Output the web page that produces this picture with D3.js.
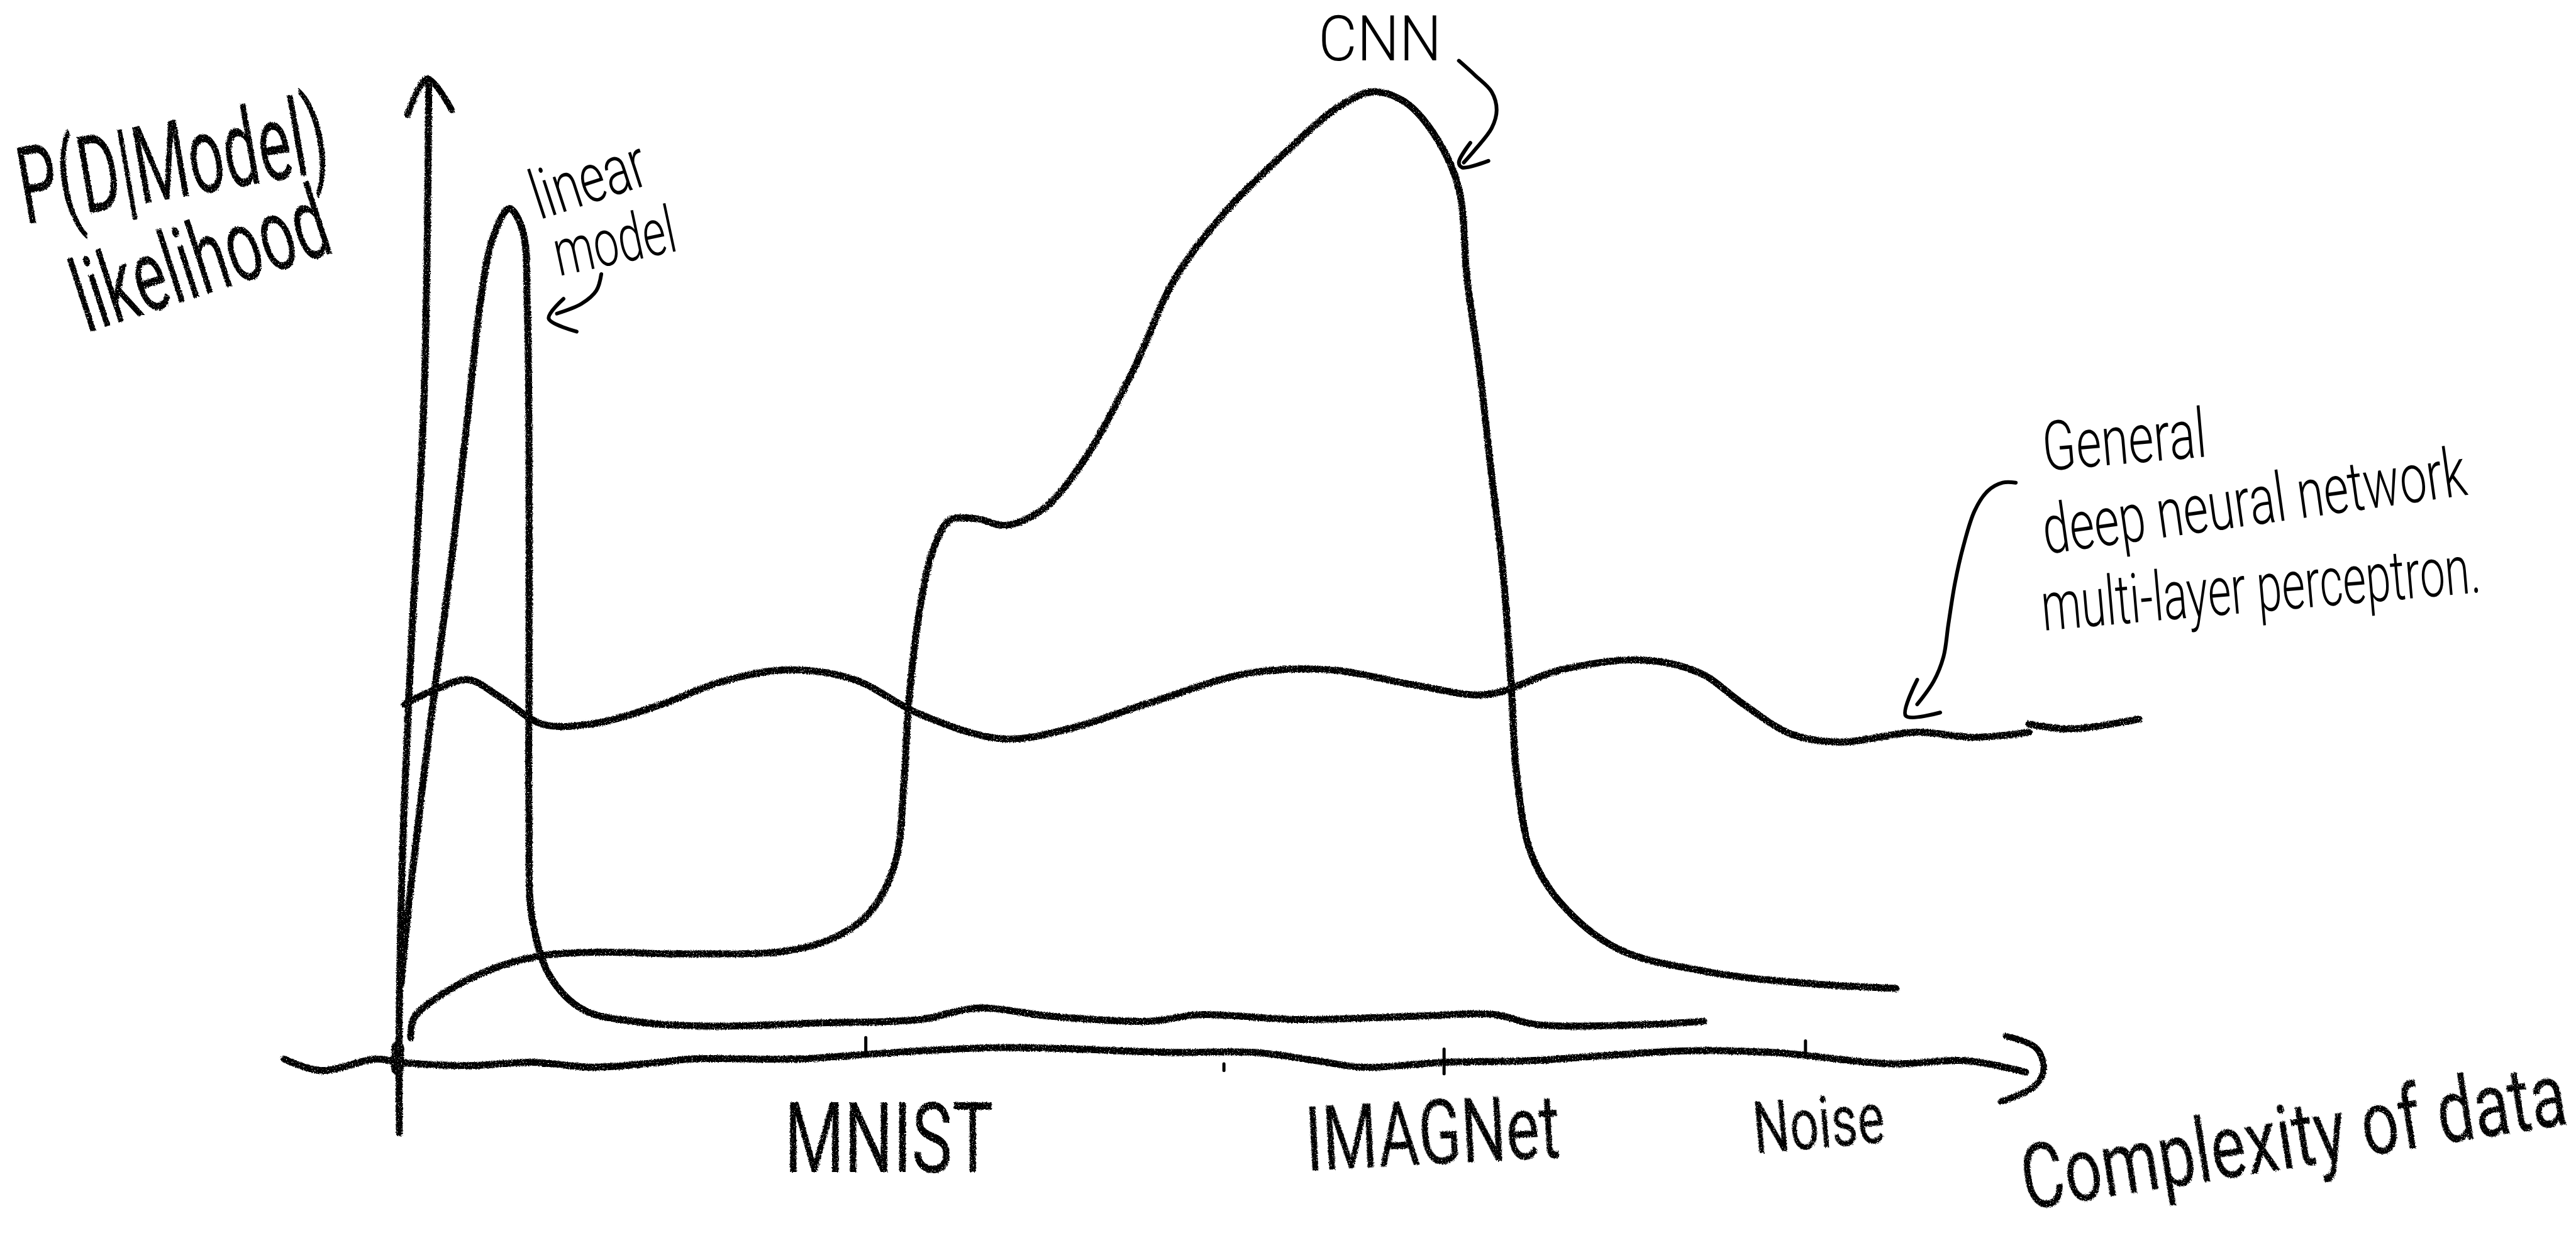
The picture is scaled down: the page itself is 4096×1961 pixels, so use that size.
<!DOCTYPE html>
<html>
<head>
<meta charset="utf-8">
<script src="https://cdn.jsdelivr.net/npm/d3@7"></script>
<style>
  html, body { margin: 0; padding: 0; background: #fff; overflow: hidden; }
  svg { display: block; }
  text { font-family: Roboto, "Open Sans", sans-serif; fill: #000; }
</style>
</head>
<body>
<script>
/* DATA. complexity = distance right of the y axis, likelihood = height above the x axis */
var linearX = [1, 7, 19, 32, 42, 50, 57, 67, 75, 78, 79, 79, 79, 81, 92, 112, 142, 187, 257, 317, 352, 397, 457, 487, 547, 617, 667, 692, 757, 794];
var linearY = [47, 107, 207, 307, 397, 467, 502, 520, 507, 457, 367, 247, 147, 87, 52, 32, 25, 22, 24, 26, 33, 28, 25, 29, 26, 28, 29, 23, 23, 25];

var cnnX = [7, 9, 27, 57, 87, 117, 177, 237, 267, 287, 302, 307, 310, 317, 325, 335, 352, 369, 392, 417, 447, 472, 502, 537, 572, 592, 612, 632, 645, 650, 657, 665, 672, 677, 680, 689, 707, 742, 797, 857, 911];
var cnnY = [15, 27, 42, 57, 65, 67, 66, 68, 77, 92, 122, 167, 217, 277, 312, 330, 331, 327, 337, 367, 422, 477, 517, 552, 582, 591, 585, 562, 532, 477, 427, 357, 297, 227, 177, 127, 97, 69, 55, 48, 45];

var generalX = [3, 22, 42, 62, 87, 117, 157, 197, 237, 277, 317, 367, 407, 457, 517, 567, 617, 662, 707, 757, 792, 817, 847, 877, 923, 959, 992];
var generalY = [218, 227, 233, 222, 206, 206, 217, 232, 239, 233, 212, 197, 203, 219, 237, 239, 230, 224, 239, 245, 237, 219, 200, 195, 201, 198, 201];
var generalTailX = [992, 1017, 1059];
var generalTailY = [206, 203, 209];

var xAxisX = [-70, -48, -14, 0, 43, 80, 118, 159, 177, 243, 287, 367, 470, 521, 558, 587, 636, 689, 733, 784, 836, 909, 953, 990];
var xAxisY = [2, -5, 2, 0, -2, 0, -3, 0, 2, 2, 5, 9, 6, 6, 1, -3, 0, 1, 4, 7, 6, -1, 1, -6];
var yAxisX = [0, 0, 2, 7, 15, 18];
var yAxisY = [-43, 27, 127, 247, 402, 599];

var tickValues = [284, 502, 636, 856];
var tickTop = [15, -1, 8, 13];
var tickBottom = [5, -5, -7, 4];

var xLabels = ["MNIST", "IMAGNet", "Noise"];
var xTitle = "Complexity of data";
var yTitle = ["P(D|Model)", "likelihood"];
var seriesNotes = ["linear", "model", "CNN", "General", "deep neural network", "multi-layer perceptron."];

// set the dimensions (the sketch is read in a 1568 wide copy)
var width = 4096,
    height = 1961,
    k = width / 1568;

var x = d3.scaleLinear().domain([-243, 1325]).range([0, width]);
var y = d3.scaleLinear().domain([647, -104]).range([0, height]);

var line = d3.line()
    .x(function(d) { return x(d[0]); })
    .y(function(d) { return y(d[1]); })
    .curve(d3.curveCatmullRom.alpha(0.5));

var svg = d3.select("body").append("svg")
    .attr("width", width)
    .attr("height", height);

svg.append("rect").attr("width", width).attr("height", height).attr("fill", "#fff");

// pencil grain for the heavy strokes
var filter = svg.append("defs").append("filter")
    .attr("id", "pencil")
    .attr("filterUnits", "userSpaceOnUse")
    .attr("x", 0).attr("y", 0).attr("width", width).attr("height", height);
filter.append("feTurbulence")
    .attr("type", "fractalNoise").attr("baseFrequency", 0.45).attr("numOctaves", 2).attr("seed", 4).attr("result", "noise");
filter.append("feDisplacementMap")
    .attr("in", "SourceGraphic").attr("in2", "noise").attr("scale", 5).attr("result", "rough");
filter.append("feColorMatrix")
    .attr("in", "noise").attr("type", "matrix")
    .attr("values", "0 0 0 0 0  0 0 0 0 0  0 0 0 0 0  0 0 0 -8 6.2").attr("result", "grain");
filter.append("feComposite")
    .attr("in", "rough").attr("in2", "grain").attr("operator", "in");

var heavy = svg.append("g").attr("filter", "url(#pencil)");
var thin = svg.append("g");

function zip(a, b) { return a.map(function(d, i) { return [d, b[i]]; }); }

function stroke(g, pts, w) {
  g.append("path")
    .attr("d", line(pts))
    .attr("fill", "none")
    .attr("stroke", "#000")
    .attr("stroke-width", w)
    .attr("stroke-linecap", "round")
    .attr("stroke-linejoin", "round");
}

// axes
stroke(heavy, zip(xAxisX, xAxisY), 11);
stroke(heavy, zip(yAxisX, yAxisY), 11);
stroke(heavy, [[-1, 9], [-1, -4]], 20);
// axis arrow heads, same pen
stroke(heavy, [[978, 16], [996, 9], [1001, -3], [996, -14], [975, -24]], 10);
stroke(heavy, [[5, 577], [17, 599], [32, 580]], 10);

// ticks
tickValues.forEach(function(d, i) {
  stroke(thin, [[d, tickTop[i]], [d, tickBottom[i]]], 5);
});

// the three curves
stroke(heavy, zip(linearX, linearY), 11);
stroke(heavy, zip(cnnX, cnnY), 11);
stroke(heavy, zip(generalX, generalY), 11);
stroke(heavy, zip(generalTailX, generalTailY), 11);

// pointers from the notes to the curves
stroke(thin, [[123, 480], [120, 470], [111, 462], [96, 456]], 6);
stroke(thin, [[100, 465], [91, 453], [108, 445]], 6);
stroke(thin, [[645, 610], [655, 601], [665, 591], [668, 580], [665, 569], [655, 556], [648, 548]], 6);
stroke(thin, [[652, 560], [645, 548], [647, 545], [663, 549]], 6);
stroke(thin, [[984, 353], [976, 353], [967, 348], [959, 336], [952, 314], [947, 292], [943, 267], [940, 247], [934, 232], [924, 218]], 6);
stroke(thin, [[924, 233], [917, 211], [938, 213]], 6);

// handwritten texts: centre, width and angle come from the sketch
function note(g, txt, cx, cy, w, size, rot, weight) {
  var t = g.append("text")
      .attr("font-size", size * k)
      .attr("font-weight", weight)
      .attr("text-anchor", "middle")
      .attr("dominant-baseline", "central")
      .text(txt);
  var sx = (w * k) / t.node().getComputedTextLength();
  t.attr("transform", "translate(" + (cx * k) + "," + (cy * k) + ") rotate(" + rot + ") scale(" + sx + ",1)");
}

note(heavy, yTitle[0], 105, 98, 190, 66, -10, 400);
note(heavy, yTitle[1], 122, 158, 160, 62, -18, 400);
note(heavy, xLabels[0], 541, 693, 127, 60, 0, 400);
note(heavy, xLabels[1], 872, 690, 155, 55, -3, 400);
note(heavy, xLabels[2], 1107, 684, 80, 44, -5, 400);
note(heavy, xTitle, 1396, 692, 335, 55, -9, 400);

note(thin, seriesNotes[0], 358, 109, 72, 42, -18, 300);
note(thin, seriesNotes[1], 374, 147, 75, 40, -12, 300);
note(thin, seriesNotes[2], 840, 24, 75, 38, 0, 300);
note(thin, seriesNotes[3], 1293, 268, 100, 42, -5, 300);
note(thin, seriesNotes[4], 1372, 305, 260, 42, -8, 300);
note(thin, seriesNotes[5], 1376, 358, 268, 42, -5, 300);
</script>
</body>
</html>
